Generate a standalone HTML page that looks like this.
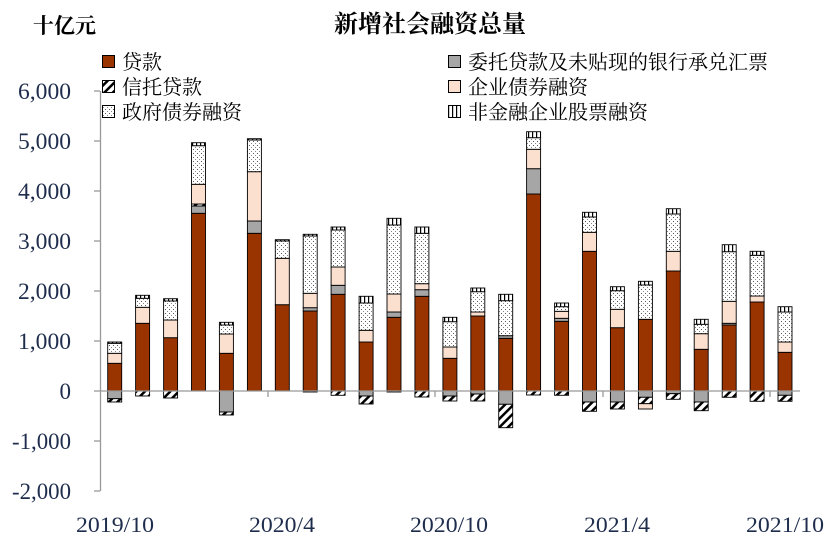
<!DOCTYPE html>
<html><head><meta charset="utf-8"><style>
body{margin:0;background:#fff}
svg{display:block}
text{font-family:"Liberation Serif","Noto Serif CJK SC",serif}
</style></head><body>
<svg id="s" width="836" height="543" xmlns="http://www.w3.org/2000/svg">
<defs>
<pattern id="dots" width="4" height="4" patternUnits="userSpaceOnUse"><rect width="4" height="4" fill="#fff"/><rect x="1" y="1" width="1" height="1" fill="#555"/><rect x="3" y="3" width="1" height="1" fill="#888"/></pattern>
<pattern id="vl" width="4" height="4" patternUnits="userSpaceOnUse"><rect width="4" height="4" fill="#fff"/><rect x="0" y="0" width="1.2" height="4" fill="#000"/></pattern>
<pattern id="hatch" width="6" height="6" patternUnits="userSpaceOnUse" patternTransform="rotate(45)"><rect width="6" height="6" fill="#fff"/><rect x="0" y="0" width="2.5" height="6" fill="#000"/></pattern>
</defs>
<text x="33" y="33" font-size="21" font-weight="bold" font-family="Noto Sans CJK SC,sans-serif">十亿元</text>
<text x="430" y="32" font-size="24" font-weight="bold" text-anchor="middle" font-family="Noto Sans CJK SC,sans-serif">新增社会融资总量</text>
<g font-size="20" fill="#000">
<rect x="102.5" y="55.5" width="12" height="12" fill="#993300" stroke="#000"/><text x="122" y="69">贷款</text>
<rect x="102.5" y="80.5" width="12" height="12" fill="url(#hatch)" stroke="#000"/><text x="122" y="94">信托贷款</text>
<rect x="102.5" y="105.5" width="12" height="12" fill="url(#dots)" stroke="#000"/><text x="122" y="119">政府债券融资</text>
<rect x="448.5" y="55.5" width="12" height="12" fill="#a6a6a6" stroke="#000"/><text x="468" y="69">委托贷款及未贴现的银行承兑汇票</text>
<rect x="448.5" y="80.5" width="12" height="12" fill="#fbe0d0" stroke="#000"/><text x="468" y="94">企业债券融资</text>
<rect x="448.5" y="105.5" width="12" height="12" fill="url(#vl)" stroke="#000"/><text x="468" y="119">非金融企业股票融资</text>
</g>
<g stroke="#999" stroke-width="1.3">
<line x1="100.5" y1="91" x2="100.5" y2="491"/>
<line x1="94" y1="91" x2="100" y2="91"/><line x1="94" y1="141" x2="100" y2="141"/><line x1="94" y1="191" x2="100" y2="191"/><line x1="94" y1="241" x2="100" y2="241"/><line x1="94" y1="291" x2="100" y2="291"/><line x1="94" y1="341" x2="100" y2="341"/><line x1="94" y1="391" x2="100" y2="391"/><line x1="94" y1="441" x2="100" y2="441"/><line x1="94" y1="491" x2="100" y2="491"/>
<line x1="268" y1="391" x2="268" y2="397"/><line x1="435" y1="391" x2="435" y2="397"/><line x1="603" y1="391" x2="603" y2="397"/><line x1="770" y1="391" x2="770" y2="397"/>
</g>
<g font-size="23" text-anchor="end" fill="#1f2d4d">
<text x="71" y="99" textLength="53" lengthAdjust="spacingAndGlyphs">6,000</text><text x="71" y="149" textLength="53" lengthAdjust="spacingAndGlyphs">5,000</text><text x="71" y="199" textLength="53" lengthAdjust="spacingAndGlyphs">4,000</text><text x="71" y="249" textLength="53" lengthAdjust="spacingAndGlyphs">3,000</text><text x="71" y="299" textLength="53" lengthAdjust="spacingAndGlyphs">2,000</text><text x="71" y="349" textLength="53" lengthAdjust="spacingAndGlyphs">1,000</text><text x="71" y="399">0</text><text x="71" y="449" textLength="59" lengthAdjust="spacingAndGlyphs">-1,000</text><text x="71" y="499" textLength="59" lengthAdjust="spacingAndGlyphs">-2,000</text>
</g>
<g font-size="22" text-anchor="middle" fill="#1f2d4d">
<text x="115" y="532" textLength="78" lengthAdjust="spacingAndGlyphs">2019/10</text><text x="282" y="532" textLength="66" lengthAdjust="spacingAndGlyphs">2020/4</text><text x="449" y="532" textLength="78" lengthAdjust="spacingAndGlyphs">2020/10</text><text x="617" y="532" textLength="66" lengthAdjust="spacingAndGlyphs">2021/4</text><text x="785" y="532" textLength="78" lengthAdjust="spacingAndGlyphs">2021/10</text>
</g>
<g id="bars"></g>
<line x1="100" y1="391" x2="800" y2="391" stroke="#999" stroke-width="1.3"/>
</svg>
<script>
var F={L:"#993300",G:"#a6a6a6",T:"url(#hatch)",C:"#fbe0d0",V:"url(#dots)",E:"url(#vl)"};
var D=[
[[["L",363.3],["C",353.3],["V",343.3],["E",342]],[["G",398.7],["T",402]]],
[[["L",323.3],["C",307.3],["V",298.3],["E",295.3]],[["T",396]]],
[[["L",337.7],["C",320],["V",301],["E",298.7]],[["T",398]]],
[[["L",213.3],["G",206],["T",204],["C",184.3],["V",145.7],["E",142.7]],[]],
[[["L",353.3],["C",334],["V",325],["E",322.3]],[["G",412],["T",415]]],
[[["L",233.3],["G",221],["C",171.7],["V",140],["E",138.7]],[]],
[[["L",304.7],["C",258.3],["V",241],["E",239.7]],[]],
[[["L",311],["G",307.7],["C",293.3],["V",236],["E",234.3]],[["T",392]]],
[[["L",294.3],["G",285.3],["C",267],["V",230],["E",227]],[["T",395.3]]],
[[["L",342],["C",330.3],["V",303],["E",296.3]],[["G",396],["T",404]]],
[[["L",317.3],["G",312],["C",294],["V",225],["E",218.3]],[["T",392]]],
[[["L",296.3],["G",289.7],["C",283.7],["V",233.3],["E",227]],[["T",397]]],
[[["L",358.3],["C",347],["V",321.7],["E",317.3]],[["G",396],["T",401]]],
[[["L",316],["C",312],["V",291.7],["E",288]],[["G",394],["T",401]]],
[[["L",338.3],["G",335.7],["V",300.7],["E",294.3]],[["G",404.3],["T",427.7]]],
[[["L",194],["G",168.7],["C",149.3],["V",137.7],["E",131.7]],[["T",395]]],
[[["L",321.3],["G",318.3],["C",311.3],["V",306.7],["E",303]],[["T",395.3]]],
[[["L",251.3],["C",232.3],["V",217],["E",212.3]],[["G",402],["T",411.3]]],
[[["L",327.7],["C",309.3],["V",290.7],["E",286.7]],[["G",402],["T",409]]],
[[["L",319.3],["V",285],["E",281.3]],[["G",397.3],["T",403.7],["C",409]]],
[[["L",271],["C",251.3],["V",214],["E",208.7]],[["G",393.7],["T",399.3]]],
[[["L",349.3],["C",333.7],["V",324.3],["E",319.3]],[["G",402],["T",410.7]]],
[[["L",325],["G",323.3],["C",301.3],["V",251.7],["E",244.7]],[["T",397.3]]],
[[["L",302],["C",296],["V",255.3],["E",251.3]],[["T",401.3]]],
[[["L",352.3],["C",342],["V",312],["E",306.7]],[["G",395.3],["T",401.3]]]
];
var g=document.getElementById("bars"),h="";
D.forEach(function(b,k){
 var x=107.7+27.93*k,w=14,y=391;
 b[0].forEach(function(s){h+='<rect x="'+x.toFixed(1)+'" y="'+s[1]+'" width="'+w+'" height="'+(y-s[1]).toFixed(1)+'" fill="'+F[s[0]]+'" stroke="#000" stroke-width="0.9"/>';y=s[1];});
 y=391;
 b[1].forEach(function(s){h+='<rect x="'+x.toFixed(1)+'" y="'+y+'" width="'+w+'" height="'+(s[1]-y).toFixed(1)+'" fill="'+F[s[0]]+'" stroke="#000" stroke-width="0.9"/>';y=s[1];});
});
g.innerHTML=h;
</script>
</body></html>
